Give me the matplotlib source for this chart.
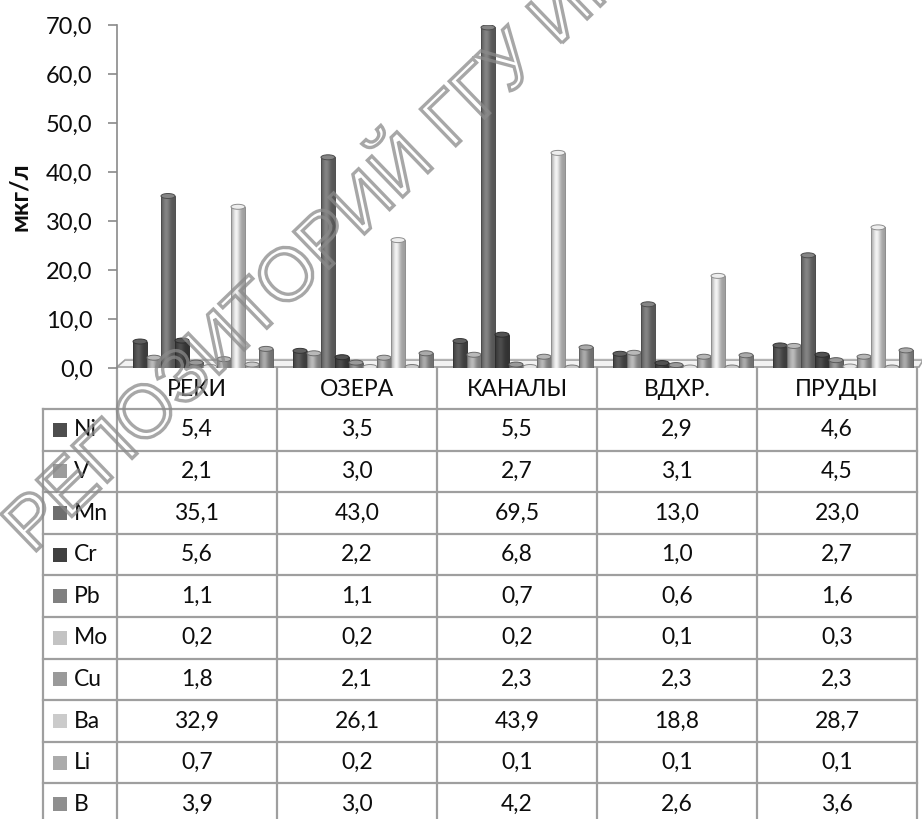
import numpy as np
import matplotlib
matplotlib.use("Agg")
import matplotlib.pyplot as plt
from matplotlib.patches import Rectangle, Ellipse, Polygon, PathPatch
from matplotlib.textpath import TextPath
from matplotlib.font_manager import FontProperties
from matplotlib.transforms import Affine2D
from matplotlib.ticker import FuncFormatter

# ---- data ----
categories = ["РЕКИ", "ОЗЕРА", "КАНАЛЫ", "ВДХР.", "ПРУДЫ"]
elements = ["Ni", "V", "Mn", "Cr", "Pb", "Mo", "Cu", "Ba", "Li", "B"]
ni = [5.4, 3.5, 5.5, 2.9, 4.6]
v = [2.1, 3.0, 2.7, 3.1, 4.5]
mn = [35.1, 43.0, 69.5, 13.0, 23.0]
cr = [5.6, 2.2, 6.8, 1.0, 2.7]
pb = [1.1, 1.1, 0.7, 0.6, 1.6]
mo = [0.2, 0.2, 0.2, 0.1, 0.3]
cu = [1.8, 2.1, 2.3, 2.3, 2.3]
ba = [32.9, 26.1, 43.9, 18.8, 28.7]
li = [0.7, 0.2, 0.1, 0.1, 0.1]
b = [3.9, 3.0, 4.2, 2.6, 3.6]
series = [ni, v, mn, cr, pb, mo, cu, ba, li, b]
colors = ["#4d4d4d", "#9c9c9c", "#6e6e6e", "#404040", "#808080",
          "#c3c3c3", "#9a9a9a", "#cbcbcb", "#ababab", "#8f8f8f"]
y_ticks = [0, 10, 20, 30, 40, 50, 60, 70]

W, H = 922, 819
FONT = ["Lato", "DejaVu Sans"]
plt.rcParams["font.family"] = FONT

fig = plt.figure(figsize=(W / 100, H / 100), dpi=100)
fig.patch.set_facecolor("white")

# layout in pixels
x_left, x_right = 117, 917
y_zero, y_top = 368, 25
leg_left = 43
row_top = 409
row_h = 41.6
grid_col = "#9f9f9f"
txt_col = "#0d0d0d"
fs = 16.5


def fmt(val):
    return f"{val:.1f}".replace(".", ",")


# ---- background layer: floor and data table (pixel coordinates) ----
tab = fig.add_axes([0, 0, 1, 1], zorder=0)
tab.set_xlim(0, W)
tab.set_ylim(H, 0)
tab.axis("off")

floor = Polygon([(x_left, 367), (x_left + 8, 360), (W, 360), (W, 362),
                 (x_right + 2, 367)], closed=True,
                facecolor="#f2f2f2", edgecolor="#a0a0a0", lw=1.2)
tab.add_patch(floor)
tab.plot([x_left + 8, W], [358.5, 358.5], color="#b5b5b5", lw=1.0)

n_cat = len(categories)
col_w = (x_right - x_left) / n_cat
col_edges = [x_left + i * col_w for i in range(n_cat + 1)]
n_rows = len(elements)
row_lines = [row_top + i * row_h for i in range(n_rows)]

for xe in col_edges:
    tab.plot([xe, xe], [368, H + 5], color=grid_col, lw=1.6)
tab.plot([leg_left, leg_left], [row_top, H + 5], color=grid_col, lw=1.6)
for yl in row_lines:
    tab.plot([leg_left, x_right], [yl, yl], color=grid_col, lw=1.6)

for i, name in enumerate(categories):
    tab.text(x_left + (i + 0.5) * col_w, 389, name, ha="center", va="center",
             fontsize=fs, color=txt_col)

for r, (el, vals, c) in enumerate(zip(elements, series, colors)):
    yc = row_top + (r + 0.5) * row_h
    tab.add_patch(Rectangle((53, yc - 7), 14, 14, facecolor=c, edgecolor="none"))
    tab.text(74, yc, el, ha="left", va="center", fontsize=fs, color=txt_col)
    for i, val in enumerate(vals):
        tab.text(x_left + (i + 0.5) * col_w, yc, fmt(val), ha="center",
                 va="center", fontsize=fs, color=txt_col)

# ---- chart layer: cylinders ----
ax = fig.add_axes([x_left / W, 1 - y_zero / H, (x_right - x_left) / W,
                   (y_zero - y_top) / H], zorder=1)
ax.patch.set_alpha(0)
ax.set_xlim(0, n_cat)
ax.set_ylim(0, 70)

start, bw = 0.1, 0.0875
px_per_unit = (y_zero - y_top) / 70.0
cap_h = 5 / px_per_unit
t = np.linspace(0, 1, 40)
shade = 0.78 + 0.42 * np.exp(-((t - 0.38) / 0.28) ** 2)

for j, (vals, c) in enumerate(zip(series, colors)):
    base = np.array(matplotlib.colors.to_rgb(c))
    grad = np.clip(base[None, :] * shade[:, None], 0, 1)[None, :, :]
    edge = np.clip(base * 0.7, 0, 1)
    top = np.clip(base * 1.12 + 0.04, 0, 1)
    for i, val in enumerate(vals):
        x0 = i + start + j * bw
        ax.imshow(grad, extent=(x0, x0 + bw, 0, val), aspect="auto",
                  interpolation="bilinear", zorder=2 + j * 0.01)
        ax.add_patch(Rectangle((x0, 0), bw, val, facecolor="none",
                               edgecolor=edge, lw=0.7, zorder=2 + j * 0.01 + 0.001))
        ax.add_patch(Ellipse((x0 + bw / 2, val), bw, cap_h, facecolor=top,
                             edgecolor=edge, lw=0.7, zorder=2 + j * 0.01 + 0.002))

ax.set_xlim(0, n_cat)
ax.set_ylim(0, 70)
ax.set_yticks(y_ticks)
ax.yaxis.set_major_formatter(FuncFormatter(lambda y, _: fmt(y)))
ax.set_xticks([])
for s in ["top", "right", "bottom"]:
    ax.spines[s].set_visible(False)
ax.spines["left"].set_color("#8a8a8a")
ax.spines["left"].set_linewidth(1.2)
ax.tick_params(axis="y", direction="out", length=6.5, width=1.2, color="#8a8a8a",
               labelsize=17, labelcolor=txt_col, pad=11)
ax.set_ylabel("мкг/л", fontsize=18, fontweight="bold", labelpad=11, color=txt_col)

# ---- repository watermark ----
wm_prop = FontProperties(family=["Liberation Sans", "DejaVu Sans"])
wm_path = TextPath((0, 0), "РЕПОЗИТОРИЙ ГГУ ИМЕНИ Ф.СКОРИНЫ", size=74, prop=wm_prop)
wm_tr = Affine2D().rotate_deg(44).translate(32, H - 555)
wm = PathPatch(wm_path, facecolor="none", edgecolor="#8a8a8a", lw=2.4,
               alpha=0.75, transform=wm_tr, zorder=5)
fig.add_artist(wm)

fig.savefig("out.png", dpi=100)
